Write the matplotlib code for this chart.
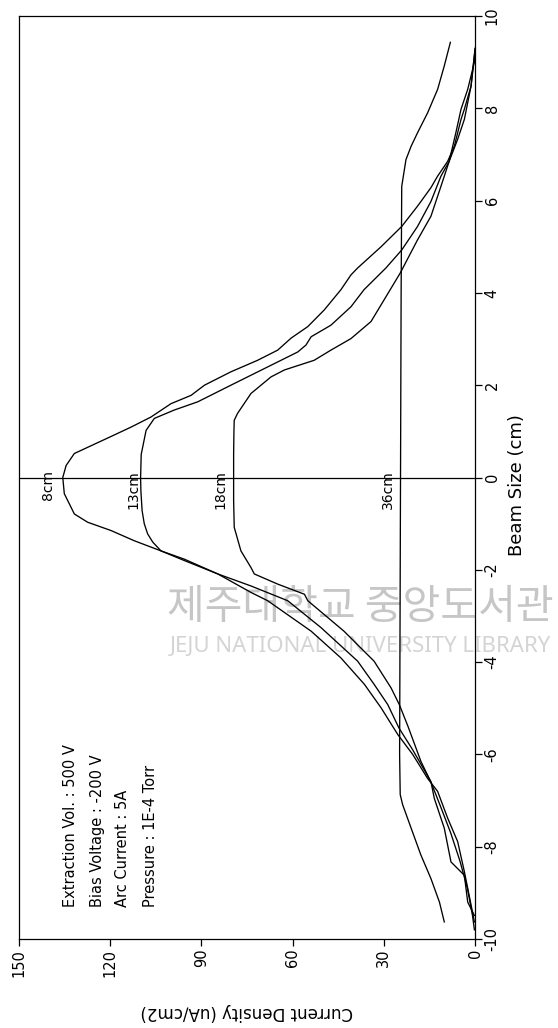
import matplotlib
matplotlib.use("Agg")
import matplotlib.pyplot as plt

# Beam profiles: beam position (cm) and current density (uA/cm2) for each
# source-to-probe distance.
beam_8cm = [-9.63, -9.26, -8.54, -7.89, -7.38, -6.80, -6.52, -6.00, -5.57, -4.99,
            -4.48, -3.91, -3.33, -2.67, -2.49, -2.09, -1.77, -1.59, -1.37, -1.15,
            -0.97, -0.79, -0.35, 0.00, 0.26, 0.52, 0.85, 1.09, 1.31, 1.60,
            1.78, 2.00, 2.29, 2.54, 2.76, 3.02, 3.27, 3.63, 4.07, 4.39,
            4.54, 5.00, 5.44, 5.88, 6.28, 6.53, 6.85, 7.18, 7.76, 7.98,
            8.48, 9.20]
dens_8cm = [0.2, 1.3, 3.5, 5.7, 9.0, 12.3, 15.6, 20.5, 25.4, 30.9,
            36.4, 44.1, 53.9, 68.2, 73.7, 84.6, 95.6, 103.3, 112.1, 119.7,
            127.4, 131.8, 135.1, 135.6, 134.5, 131.8, 121.0, 113.2, 106.6, 100.0,
            93.4, 89.0, 80.3, 71.5, 64.9, 60.5, 55.0, 49.6, 44.1, 40.8,
            38.6, 30.9, 24.1, 18.9, 14.5, 12.3, 9.0, 6.8, 4.6, 3.5,
            1.3, 0.1]

beam_13cm = [-9.49, -9.20, -8.62, -8.33, -7.60, -6.95, -6.59, -5.90, -5.43, -4.92,
             -4.48, -3.98, -3.25, -2.67, -2.35, -2.09, -1.80, -1.59, -1.40, -1.22,
             -1.00, -0.72, -0.30, 0.00, 0.50, 1.02, 1.28, 1.46, 1.64, 2.00,
             2.36, 2.72, 2.87, 3.05, 3.30, 3.70, 4.07, 4.54, 4.93, 5.44,
             5.98, 6.53, 6.85, 7.47, 7.98, 8.41, 9.00, 9.30]
dens_13cm = [0.2, 2.4, 3.5, 7.9, 10.1, 13.4, 14.5, 20.5, 25.0, 28.7,
             33.2, 38.6, 50.7, 61.6, 73.7, 84.6, 95.6, 103.3, 106.0, 107.7,
             108.8, 109.5, 109.9, 110.0, 109.8, 108.2, 105.5, 99.0, 91.2, 80.3,
             69.3, 58.3, 55.6, 53.9, 47.4, 40.8, 36.5, 29.3, 24.1, 18.9,
             14.5, 11.2, 8.5, 6.3, 4.6, 2.4, 0.2, 0.0]

beam_18cm = [-9.80, -9.50, -8.90, -8.30, -7.70, -7.10, -6.60, -6.15, -5.40, -4.92,
             -4.56, -3.98, -3.33, -2.67, -2.53, -2.31, -2.09, -1.95, -1.59, -1.08,
             -0.50, 0.00, 0.50, 1.00, 1.24, 1.39, 1.82, 2.18, 2.33, 2.54,
             2.76, 3.01, 3.38, 3.85, 4.43, 5.15, 5.66, 6.31, 6.85, 7.33,
             7.76, 8.48, 9.28]
dens_18cm = [0.2, 0.8, 2.5, 5.0, 8.0, 11.5, 14.5, 17.8, 22.0, 24.9,
             27.6, 33.2, 43.1, 55.0, 56.1, 64.9, 72.6, 73.7, 77.0, 79.2,
             79.4, 79.4, 79.4, 79.3, 79.2, 78.1, 73.7, 67.1, 62.7, 52.9,
             47.4, 40.8, 34.2, 29.9, 24.6, 18.9, 14.5, 11.2, 8.5, 5.7,
             3.5, 1.3, 0.0]

beam_36cm = [-9.63, -9.20, -8.69, -8.18, -7.60, -7.09, -6.87, -6.00, -4.00, -2.00,
             0.00, 2.00, 4.00, 6.31, 6.89, 7.18, 7.47, 7.90, 8.41, 8.92, 9.43]
dens_36cm = [10.1, 11.7, 14.5, 17.8, 21.0, 23.8, 24.6, 24.8, 24.7, 24.6,
             24.5, 24.4, 24.3, 24.1, 22.7, 21.0, 18.9, 15.6, 12.3, 10.1, 8.1]

profile_labels = ["8cm", "13cm", "18cm", "36cm"]
label_density = [140.5, 112.5, 83.9, 28.6]

density_ticks = [0, 30, 60, 90, 120, 150]
density_tick_labels = ["0", "30", "60", "90", "120", "150"]
beam_ticks = [-10, -8, -6, -4, -2, 0, 2, 4, 6, 8, 10]
beam_tick_labels = ["-10", "-8", "-6", "-4", "-2", "0", "2", "4", "6", "8", "10"]

conditions = ["Extraction Vol. : 500 V",
              "Bias Voltage : -200 V",
              "Arc Current : 5A",
              "Pressure : 1E-4 Torr"]
condition_density = [133.2, 124.3, 115.8, 106.9]

plt.rcParams["font.family"] = ["DejaVu Sans"]

W, H = 558, 1028
fig = plt.figure(figsize=(W / 100, H / 100), dpi=100)
fig.patch.set_facecolor("white")

# Page is laid out sideways: density runs right-to-left along the bottom,
# beam position runs bottom-to-top along the right edge.
ax = fig.add_axes([19 / W, 1 - 939 / H, 456 / W, 923 / H])

profiles = [(beam_8cm, dens_8cm), (beam_13cm, dens_13cm),
            (beam_18cm, dens_18cm), (beam_36cm, dens_36cm)]
for beam, dens in profiles:
    ax.plot(dens, beam, color="black", lw=0.95, solid_joinstyle="round", zorder=3)

ax.axhline(0, color="black", lw=0.9, zorder=3)

ax.set_xlim(150, 0)
ax.set_ylim(-10, 10)

ax.set_xticks(density_ticks)
ax.set_xticklabels(density_tick_labels, rotation=90, fontsize=10.5)
ax.yaxis.tick_right()
ax.set_yticks(beam_ticks)
ax.set_yticklabels(beam_tick_labels, rotation=90, va="center", fontsize=10.5)
ax.tick_params(direction="out", length=5, width=0.9, pad=2, colors="black")

for sp in ax.spines.values():
    sp.set_linewidth(0.9)
    sp.set_color("black")

ax.set_xlabel("Current Density (uA/cm2)", rotation=180, fontsize=12)
ax.xaxis.set_label_coords(0.5, (939 - 1012) / 923)
ax.xaxis.label.set_va("center")

ax.yaxis.set_label_position("right")
ax.set_ylabel("Beam Size (cm)", rotation=90, fontsize=13)
ax.yaxis.set_label_coords((517 - 19) / 456, (939 - 485) / 923)
ax.yaxis.label.set_va("center")
ax.yaxis.label.set_ha("center")

for lab, d in zip(profile_labels, label_density):
    ax.text(d, 0.16, lab, rotation=90, rotation_mode="anchor",
            ha="right", va="center", fontsize=10, zorder=4)

for line, d in zip(conditions, condition_density):
    ax.text(d, -9.31, line, rotation=90, rotation_mode="anchor",
            ha="left", va="center", fontsize=10.5, zorder=4)

# Library watermark across the middle of the page
ax.text(360 / W, 1 - 607 / H, "제주대학교 중앙도서관", transform=fig.transFigure,
        ha="center", va="center", fontsize=29.5, color="#c6c6c6",
        family=["Noto Sans CJK KR", "DejaVu Sans"], zorder=1, clip_on=False)
ax.text(360 / W, 1 - 646 / H, "JEJU NATIONAL UNIVERSITY LIBRARY",
        transform=fig.transFigure, ha="center", va="center", fontsize=16,
        color="#d4d4d4", family=["Noto Sans", "DejaVu Sans"], zorder=1,
        clip_on=False)

fig.savefig("out.png", dpi=100, facecolor="white")
